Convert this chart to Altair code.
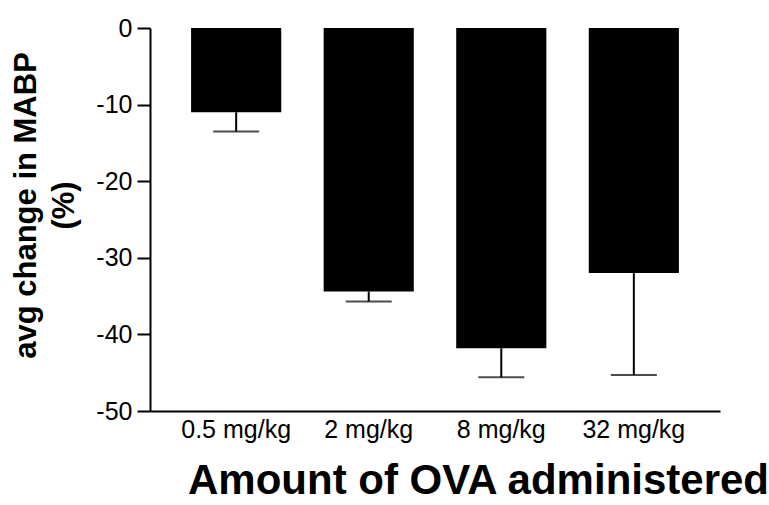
import altair as alt
import pandas as pd

doses = ["0.5 mg/kg", "2 mg/kg", "8 mg/kg", "32 mg/kg"]
mean_change = [-11.0, -34.4, -41.8, -32.0]
err = [2.5, 1.3, 3.8, 13.3]

df = pd.DataFrame({
    "dose": doses,
    "mean": mean_change,
    "low": [m - e for m, e in zip(mean_change, err)],
})

FONT = "Liberation Sans"

x_enc = alt.X(
    "dose:N",
    sort=doses,
    scale=alt.Scale(paddingInner=0.32, paddingOuter=0.31),
    axis=alt.Axis(
        title="Amount of OVA administered",
        titleFont=FONT, titleFontSize=42, titleFontWeight="bold", titleColor="black",
        titleX=328, titleY=82, titleAlign="center", titleBaseline="alphabetic",
        labelFont=FONT, labelFontSize=25, labelColor="black", labelAngle=0,
        labelPadding=6, ticks=False, domainColor="black", domainWidth=2,
    ),
)

y_scale = alt.Scale(domain=[-50, 0], nice=False)

bars = alt.Chart(df).mark_bar(color="black").encode(
    x=x_enc,
    y=alt.Y(
        "mean:Q",
        scale=y_scale,
        axis=alt.Axis(
            title=["avg change in MABP", "(%)"],
            titleFont=FONT, titleFontSize=31, titleFontWeight="bold", titleColor="black",
            titleAngle=270, titleX=-115, titleY=177, titleAlign="center",
            titleBaseline="alphabetic", titleLineHeight=38,
            values=[0, -10, -20, -30, -40, -50],
            labelExpr="datum.value + ''",
            labelFont=FONT, labelFontSize=25, labelColor="black", labelPadding=5,
            tickSize=13, tickWidth=2, tickColor="black", domainColor="black", domainWidth=2,
            grid=False,
        ),
    ),
    y2=alt.datum(0),
)

rules = alt.Chart(df).mark_rule(color="black", strokeWidth=2).encode(
    x=alt.X("dose:N", sort=doses),
    y=alt.Y("mean:Q", scale=y_scale),
    y2="low:Q",
)

caps = alt.Chart(df).mark_tick(color="black", thickness=2, size=46, orient="horizontal").encode(
    x=alt.X("dose:N", sort=doses),
    y=alt.Y("low:Q", scale=y_scale),
)

chart = (
    alt.layer(bars, rules, caps)
    .properties(
        width=570,
        height=383,
        padding={"left": 150, "top": 28, "right": 49, "bottom": 94},
        autosize=alt.AutoSizeParams(type="none"),
        background="white",
    )
    .configure_view(stroke=None)
)

chart.save("out.html", embed_options={"renderer": "svg", "actions": False})
